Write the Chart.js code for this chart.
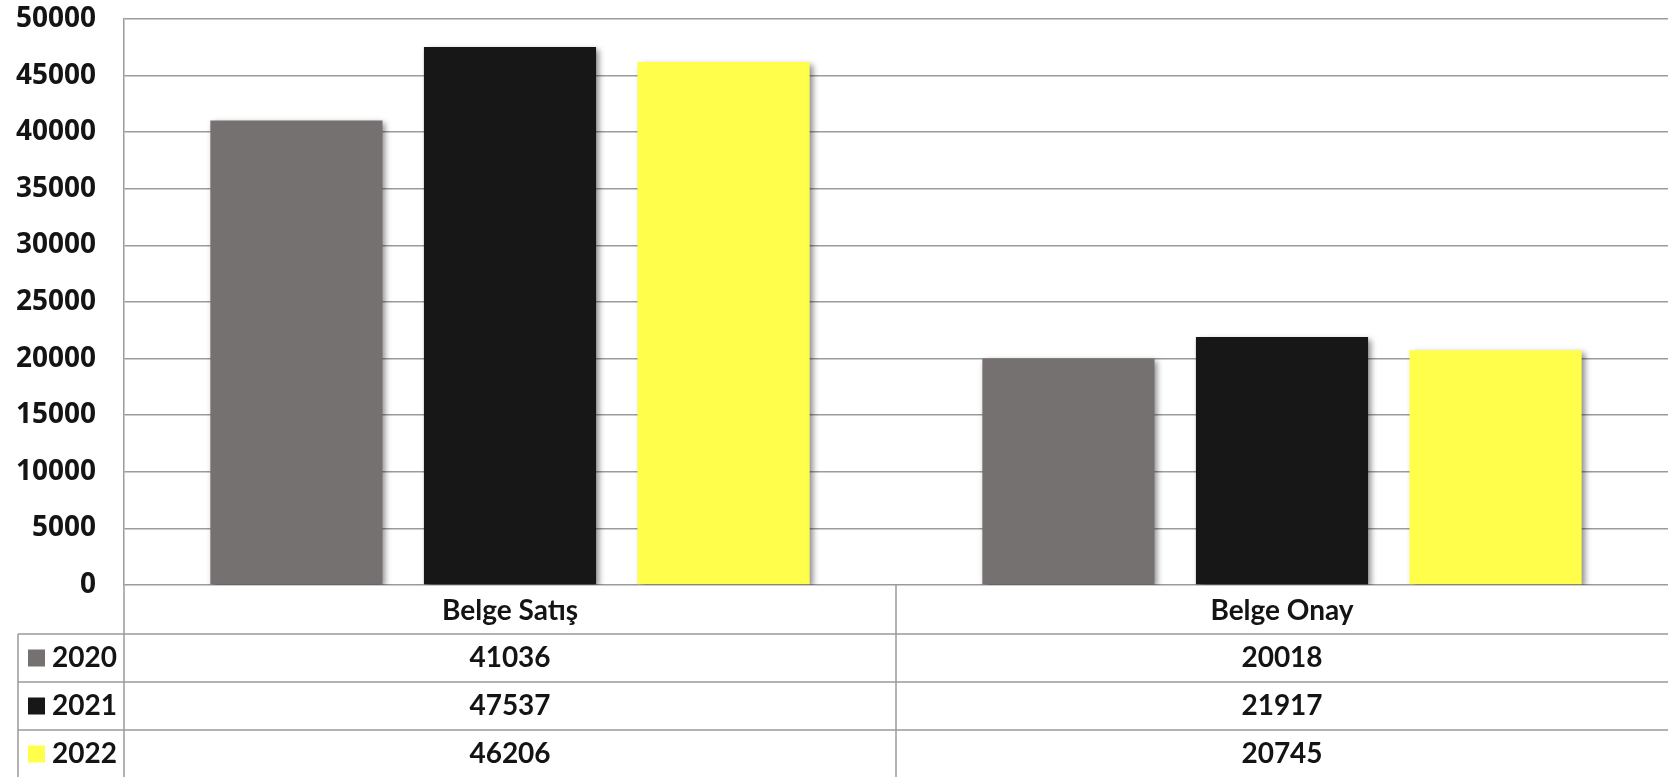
<!DOCTYPE html>
<html>
<head>
<meta charset="utf-8">
<script src="https://cdn.jsdelivr.net/npm/chart.js@4.4.0/dist/chart.umd.min.js"></script>
<style>
  html, body { margin: 0; padding: 0; background: #fff; }
  #wrap { width: 1668px; height: 777px; position: relative; }
</style>
</head>
<body>
<div id="wrap"><canvas id="c"></canvas></div>
<script>
const categories = ['Belge Satış', 'Belge Onay'];
const seriesNames = ['2020', '2021', '2022'];
const values2020 = [41036, 20018];
const values2021 = [47537, 21917];
const values2022 = [46206, 20745];
const yTicks = [0, 5000, 10000, 15000, 20000, 25000, 30000, 35000, 40000, 45000, 50000];

const seriesValues = [values2020, values2021, values2022];
const seriesColors = ['#767171', '#181717', '#ffff4b'];
const gridColor = '#9b9b9b';
const textColor = '#141414';

const shadowPlugin = {
  id: 'barShadow',
  beforeDatasetsDraw(chart) {
    const ctx = chart.ctx;
    ctx.save();
    ctx.shadowColor = 'rgba(0,0,0,0.45)';
    ctx.shadowBlur = 6;
    ctx.shadowOffsetX = 3;
    ctx.shadowOffsetY = 3;
  },
  afterDatasetsDraw(chart) {
    chart.ctx.restore();
  }
};

const tablePlugin = {
  id: 'dataTable',
  afterDraw(chart) {
    const ctx = chart.ctx;
    const area = chart.chartArea;
    const xs = chart.scales.x;
    const left = area.left, right = area.right, top = area.bottom;
    const H = chart.height;
    const catRowH = 49, rowH = 48;
    const tableLeft = 18;
    const centers = categories.map((c, i) => xs.getPixelForValue(i));
    const dividers = [];
    for (let i = 0; i < centers.length - 1; i++) dividers.push((centers[i] + centers[i + 1]) / 2);

    ctx.save();
    ctx.strokeStyle = gridColor;
    ctx.lineWidth = 1.5;
    ctx.beginPath();
    ctx.moveTo(left, top); ctx.lineTo(left, H);
    dividers.forEach(d => { ctx.moveTo(d, top); ctx.lineTo(d, H); });
    ctx.moveTo(tableLeft, top + catRowH); ctx.lineTo(tableLeft, H);
    for (let r = 0; r < seriesNames.length; r++) {
      const y = top + catRowH + r * rowH;
      ctx.moveTo(tableLeft, y); ctx.lineTo(right, y);
    }
    ctx.stroke();

    ctx.fillStyle = textColor;
    ctx.font = 'bold 28px Lato';
    ctx.textAlign = 'center';
    ctx.textBaseline = 'middle';
    categories.forEach((c, i) => ctx.fillText(c, centers[i], top + catRowH / 2 + 1));

    for (let r = 0; r < seriesNames.length; r++) {
      const cy = top + catRowH + r * rowH + rowH / 2;
      ctx.fillStyle = seriesColors[r];
      ctx.fillRect(28, cy - 8.5, 17, 17);
      ctx.fillStyle = textColor;
      ctx.textAlign = 'left';
      ctx.fillText(seriesNames[r], 52, cy);
      ctx.textAlign = 'center';
      seriesValues[r].forEach((v, i) => ctx.fillText(String(v), centers[i], cy));
    }
    ctx.restore();
  }
};

function build() {
  new Chart(document.getElementById('c'), {
    type: 'bar',
    data: {
      labels: categories,
      datasets: seriesNames.map((n, i) => ({
        label: n,
        data: seriesValues[i],
        backgroundColor: seriesColors[i],
        borderWidth: 0,
        barPercentage: 0.806,
        categoryPercentage: 0.83
      }))
    },
    options: {
      responsive: true,
      maintainAspectRatio: false,
      animation: false,
      devicePixelRatio: 1,
      layout: { padding: { top: 19, right: 0, bottom: 192, left: 0 } },
      plugins: { legend: { display: false }, tooltip: { enabled: false } },
      scales: {
        x: { display: false },
        y: {
          min: 0,
          max: 50000,
          afterBuildTicks(scale) { scale.ticks = yTicks.map(v => ({ value: v })); },
          afterFit(scale) { scale.width = 124; scale.paddingTop = 0; scale.paddingBottom = 0; },
          border: { display: true, color: gridColor, width: 1.5 },
          grid: { color: gridColor, lineWidth: 1.5, drawTicks: false },
          ticks: {
            padding: 28,
            color: textColor,
            font: { family: "'Open Sans', 'DejaVu Sans', sans-serif", weight: 'bold', size: 28 },
            callback: v => String(v)
          }
        }
      }
    },
    plugins: [shadowPlugin, tablePlugin]
  });
}

Promise.all([
  document.fonts.load("bold 28px 'Open Sans'"),
  document.fonts.load("bold 28px Lato")
]).then(build, build);
</script>
</body>
</html>
